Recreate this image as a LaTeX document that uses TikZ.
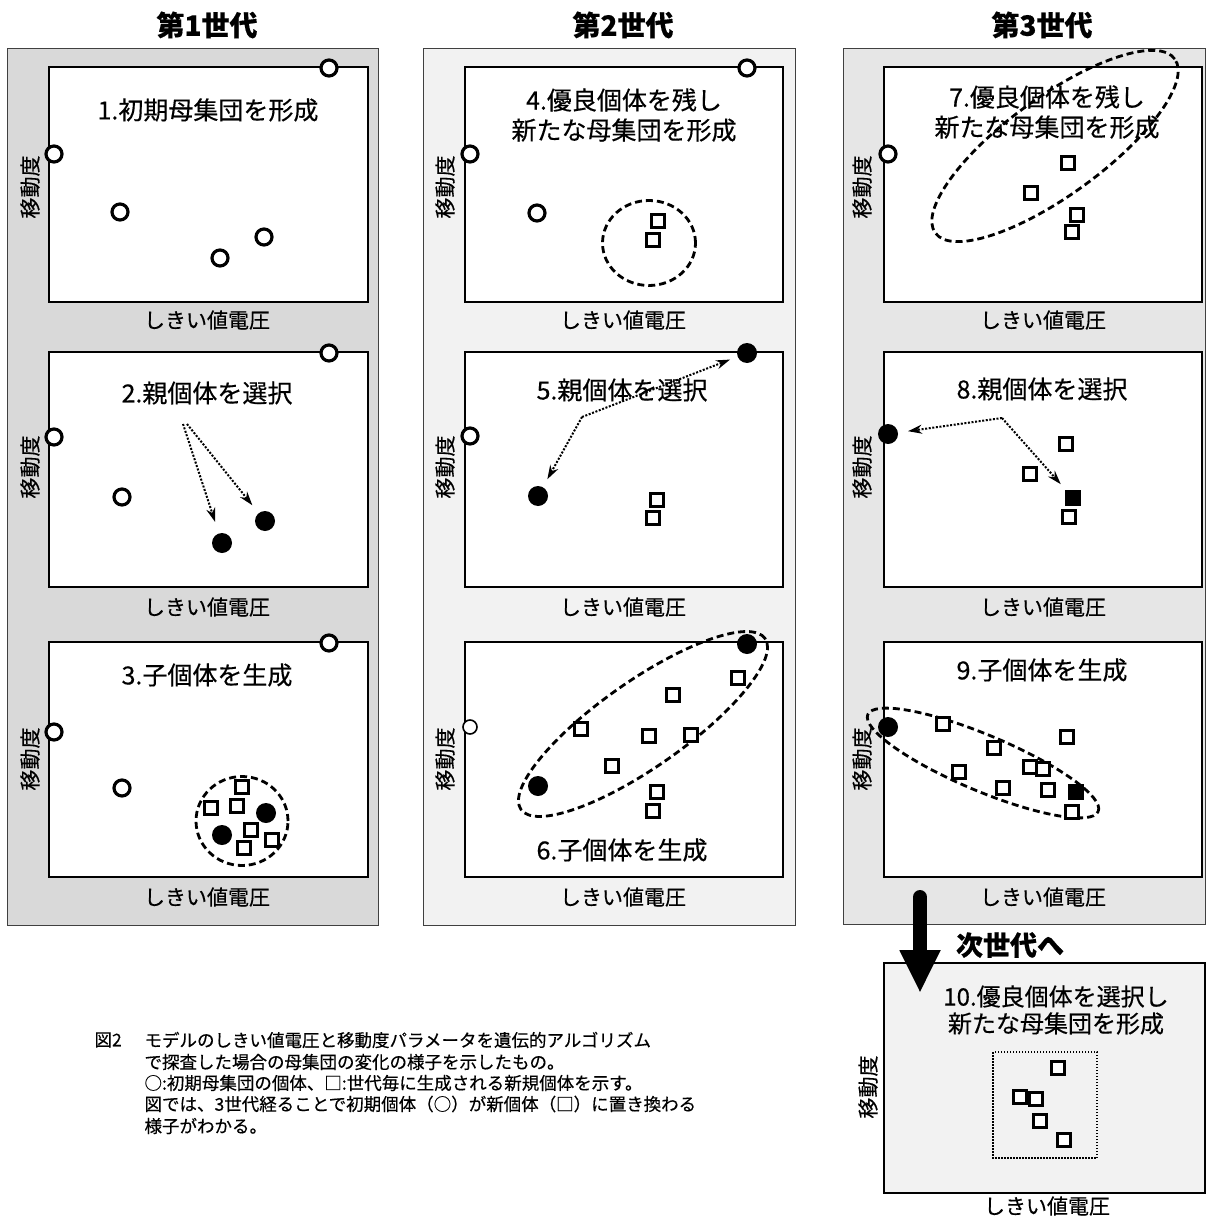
\documentclass[tikz,border=0pt]{standalone}
\usepackage{fontspec}
\setmainfont{Noto Sans CJK JP}[FakeBold=0.4]
\usetikzlibrary{arrows.meta,shapes.geometric}
\definecolor{bgA}{HTML}{D9D9D9}
\definecolor{bgB}{HTML}{F2F2F2}
\definecolor{bgC}{HTML}{E6E6E6}
\begin{document}
\begin{tikzpicture}[x=1pt,y=-1pt,
  genbg/.style={draw=black!75, line width=1pt},
  plotbox/.style={draw, fill=white, line width=2pt},
  oc/.style={circle, draw, fill=white, line width=3.2pt, minimum size=16pt, inner sep=0pt},
  thinoc/.style={circle, draw, fill=white, line width=1.6pt, minimum size=14pt, inner sep=0pt},
  fc/.style={circle, fill=black, minimum size=20pt, inner sep=0pt},
  sq/.style={rectangle, draw, fill=white, line width=3.2pt, minimum size=12.5pt, inner sep=0pt},
  thinsq/.style={rectangle, draw, fill=white, line width=2.2pt, minimum size=13pt, inner sep=0pt},
  fsq/.style={rectangle, draw, fill=black, line width=3.2pt, minimum size=12.5pt, inner sep=0pt},
  ell/.style={ellipse, draw, line width=2.8pt, dash pattern=on 7pt off 4pt, inner sep=0pt},
  dotarrow/.style={line width=2pt, dash pattern=on 2pt off 1.6pt, -{Stealth[length=14pt,width=9pt]}},
  gentitle/.style={font=\fontsize{28}{32}\selectfont\bfseries},
  steptext/.style={font=\fontsize{25}{30}\selectfont, align=center},
  xlab/.style={font=\fontsize{21}{24}\selectfont},
  ylab/.style={font=\fontsize{21}{24}\selectfont, rotate=90},
  captext/.style={font=\fontsize{17.5}{21}\selectfont, anchor=west}
]
\useasboundingbox (0,0) rectangle (1206,1222);

% generation backgrounds
\draw[genbg, fill=bgA] (7,49) rectangle (378,925);
\draw[genbg, fill=bgB] (423,49) rectangle (795,925);
\draw[genbg, fill=bgC] (843,49) rectangle (1205.5,924);

% titles
\node[gentitle] (t1) at (207,25) {第1世代};
\node[gentitle] (t2) at (623,25) {第2世代};
\node[gentitle] (t3) at (1042,25) {第3世代};

% plot boxes
\foreach \x/\xx in {49/368, 465/783, 884/1202}{
  \foreach \y/\yy in {67/302, 352/587, 642/877}{
    \draw[plotbox] (\x,\y) rectangle (\xx,\yy);
  }
}

% axis labels
\foreach \cx/\yx/\g in {207/30/a, 623/445/b, 1043/862/c}{
  \node[xlab] (xl1\g) at (\cx,320) {しきい値電圧};
  \node[xlab] (xl2\g) at (\cx,607) {しきい値電圧};
  \node[xlab] (xl3\g) at (\cx,897) {しきい値電圧};
  \node[ylab] (yl1\g) at (\yx,187) {移動度};
  \node[ylab] (yl2\g) at (\yx,467) {移動度};
  \node[ylab] (yl3\g) at (\yx,759) {移動度};
}

% ---------- Panel 1 ----------
\node[steptext] (s1) at (208,110) {1.初期母集団を形成};
\node[oc] (a1) at (329,68) {};
\node[oc] (a2) at (54,154) {};
\node[oc] (a3) at (120,212) {};
\node[oc] (a4) at (220,258) {};
\node[oc] (a5) at (264,237) {};

% ---------- Panel 2 ----------
\node[steptext] (s2) at (207,393) {2.親個体を選択};
\node[oc] (b1) at (329,353) {};
\node[oc] (b2) at (54,437) {};
\node[oc] (b3) at (122,497) {};
\node[fc] (b4) at (222,543) {};
\node[fc] (b5) at (265,521) {};
\coordinate (k2a) at (183,424);
\coordinate (k2b) at (187,424);
\draw[dotarrow, shorten >=12pt] (k2a) -- (b4);
\draw[dotarrow, shorten >=10pt] (k2b) -- (b5);

% ---------- Panel 3 ----------
\node[steptext] (s3) at (207,675) {3.子個体を生成};
\node[oc] (c1) at (329,643) {};
\node[oc] (c2) at (54,732) {};
\node[oc] (c3) at (122,788) {};
\node[ell, minimum width=92pt, minimum height=89pt] (e3) at (242,821) {};
\node[fc] (c4) at (222,835) {};
\node[fc] (c5) at (266,813) {};
\node[sq] (c6) at (211,808) {};
\node[sq] (c7) at (237,806) {};
\node[sq] (c8) at (242,787) {};
\node[sq] (c9) at (251,830) {};
\node[sq] (c10) at (244,848) {};
\node[sq] (c11) at (272,840) {};

% ---------- Panel 4 ----------
\node[steptext] (s4) at (624,115) {4.優良個体を残し\\新たな母集団を形成};
\node[oc] (d1) at (747,68) {};
\node[oc] (d2) at (470,154) {};
\node[oc] (d3) at (537,213) {};
\node[ell, minimum width=93pt, minimum height=85pt] (e4) at (649,243) {};
\node[sq] (d4) at (658,221) {};
\node[sq] (d5) at (653,240) {};

% ---------- Panel 5 ----------
\node[steptext] (s5) at (622,390) {5.親個体を選択};
\node[fc] (f1) at (747,353) {};
\node[fc] (f2) at (538,496) {};
\node[oc] (f3) at (470,436) {};
\node[sq] (f4) at (657,500) {};
\node[sq] (f5) at (653,518) {};
\coordinate (k5) at (582,417);
\draw[dotarrow, shorten >=8pt] (k5) -- (f1);
\draw[dotarrow, shorten >=9pt] (k5) -- (f2);

% ---------- Panel 6 ----------
\node[steptext] (s6) at (622,850) {6.子個体を生成};
\node[ell, minimum width=298pt, minimum height=86pt, rotate=35] (e6) at (643,724) {};
\node[fc] (g1) at (747,644) {};
\node[fc] (g2) at (538,786) {};
\node[thinoc] (g3) at (470,727) {};
\node[thinsq] (g4) at (738,678) {};
\node[thinsq] (g5) at (673,695) {};
\node[thinsq] (g6) at (581,729) {};
\node[thinsq] (g7) at (649,736) {};
\node[thinsq] (g8) at (691,735) {};
\node[thinsq] (g9) at (612,766) {};
\node[thinsq] (g10) at (657,792) {};
\node[thinsq] (g11) at (653,811) {};

% ---------- Panel 7 ----------
\node[ell, minimum width=296pt, minimum height=98pt, rotate=36] (e7) at (1055,146) {};
\node[steptext] (s7) at (1047,112) {7.優良個体を残し\\新たな母集団を形成};
\node[oc] (h1) at (888,154) {};
\node[sq] (h2) at (1068,163) {};
\node[sq] (h3) at (1031,193) {};
\node[sq] (h4) at (1077,215) {};
\node[sq] (h5) at (1072,232) {};

% ---------- Panel 8 ----------
\node[steptext] (s8) at (1042,389) {8.親個体を選択};
\node[fc] (i1) at (888,434) {};
\node[sq] (i2) at (1066,444) {};
\node[sq] (i3) at (1030,474) {};
\node[sq] (i5) at (1069,517) {};
\node[fsq] (i4) at (1073,498) {};
\coordinate (k8) at (1002,418);
\draw[dotarrow, shorten >=10pt] (k8) -- (i1);
\draw[dotarrow, shorten >=8pt] (k8) -- (i4);

% ---------- Panel 9 ----------
\node[steptext] (s9) at (1042,670) {9.子個体を生成};
\node[ell, minimum width=250pt, minimum height=56pt, rotate=-22.8] (e9) at (983,763) {};
\node[fc] (j1) at (888,727) {};
\node[sq] (j2) at (943,724) {};
\node[sq] (j3) at (994,748) {};
\node[sq] (j4) at (1067,737) {};
\node[sq] (j5) at (959,772) {};
\node[sq] (j6) at (1030,767) {};
\node[sq] (j7) at (1043,769) {};
\node[sq] (j8) at (1003,788) {};
\node[sq] (j9) at (1048,790) {};
\node[sq] (j11) at (1072,812) {};
\node[fsq] (j10) at (1076,792) {};

% ---------- Panel 10 ----------
\draw[line width=2pt, fill=bgB] (884,963) rectangle (1205,1193);
\node[steptext, font=\fontsize{24}{27}\selectfont] (s10) at (1056,1010) {10.優良個体を選択し\\新たな母集団を形成};
\node[ylab] (yl10) at (868,1087) {移動度};
\node[xlab] (xl10) at (1047,1206) {しきい値電圧};
\draw[line width=1.5pt, dash pattern=on 1.5pt off 1.5pt] (993,1052) rectangle (1097,1158);
\node[sq] (m1) at (1058,1068) {};
\node[sq] (m2) at (1020,1097) {};
\node[sq] (m3) at (1036,1099) {};
\node[sq] (m4) at (1040,1121) {};
\node[sq] (m5) at (1064,1140) {};

% big arrow to next generation
\coordinate (bigA) at (920,897);
\coordinate (bigB) at (920,993);
\draw[line width=14pt, line cap=round, -{Triangle[length=43pt,width=38pt]}] (bigA) -- (bigB);
\node[font=\fontsize{27}{30}\selectfont\bfseries] (next) at (1010,945) {次世代へ};

% caption
\node[captext] (cap0) at (91,1040) {図2};
\node[captext] (cap1) at (141,1040) {モデルのしきい値電圧と移動度パラメータを遺伝的アルゴリズム};
\node[captext] (cap2) at (141,1062) {で探査した場合の母集団の変化の様子を示したもの。};
\node[captext] (cap3) at (141,1083) {○:初期母集団の個体、□:世代毎に生成される新規個体を示す。};
\node[captext] (cap4) at (141,1104) {図では、3世代経ることで初期個体（○）が新個体（□）に置き換わる};
\node[captext] (cap5) at (141,1126) {様子がわかる。};
\end{tikzpicture}
\end{document}
